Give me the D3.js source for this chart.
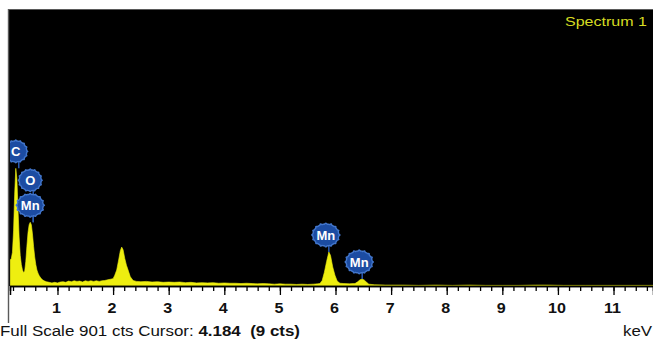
<!DOCTYPE html>
<html>
<head>
<meta charset="utf-8">
<script src="https://cdn.jsdelivr.net/npm/d3@7/dist/d3.min.js"></script>
<style>
  html, body { margin: 0; padding: 0; background: #ffffff; }
  svg { display: block; }
  text { font-family: "Liberation Sans", Arial, sans-serif; }
</style>
</head>
<body>
<svg id="chart" width="653" height="340"></svg>
<script>
// EDS spectrum: energy (keV) and counts per channel
const energy = [
  0.15, 0.17, 0.19, 0.21, 0.23, 0.25, 0.27, 0.29, 0.31, 0.33, 0.35, 0.37, 0.39,
  0.41, 0.43, 0.45, 0.47, 0.49, 0.51, 0.53, 0.55, 0.57, 0.59, 0.61, 0.63, 0.65,
  0.67, 0.70, 0.73, 0.77,
  0.80, 0.85, 0.90, 0.95, 1.00, 1.05, 1.10, 1.15, 1.20, 1.25, 1.30, 1.35, 1.40,
  1.45, 1.50, 1.55, 1.60, 1.65, 1.70, 1.75, 1.80, 1.85, 1.90, 1.95,
  2.00, 2.03, 2.065, 2.10, 2.13, 2.155, 2.18, 2.21, 2.24, 2.27, 2.31, 2.36, 2.42,
  2.50, 2.60, 2.70, 2.80, 2.90, 3.00, 3.10, 3.20, 3.30, 3.40, 3.50, 3.60, 3.70,
  3.80, 3.90, 4.00, 4.10, 4.20, 4.30, 4.40, 4.50, 4.60, 4.70, 4.80, 4.90, 5.00,
  5.10, 5.20, 5.30, 5.40, 5.50, 5.60, 5.68,
  5.72, 5.76, 5.80, 5.84, 5.88, 5.91, 5.95, 5.99, 6.03, 6.08, 6.15, 6.25, 6.32,
  6.35, 6.40, 6.44, 6.48, 6.52, 6.56, 6.60, 6.70,
  6.90, 7.20, 7.50, 7.80, 8.10, 8.40, 8.70, 9.00, 9.30, 9.60, 9.80, 10.10, 10.50,
  10.90, 11.30, 11.72
];
const counts = [
  85, 90, 110, 180, 300, 384, 350, 250, 160, 100, 70, 52, 44,
  48, 80, 130, 175, 200, 208, 200, 170, 130, 95, 70, 52, 42,
  34, 26, 20, 16,
  14, 12, 10, 12, 10, 13, 14, 12, 16, 14, 17, 15, 16,
  13, 17, 15, 17, 15, 17, 15, 17, 18, 20, 22,
  24, 35, 52, 85, 115, 127, 118, 90, 68, 52, 30, 18, 15,
  14, 15, 13, 14, 12, 13, 12, 13, 11, 12, 10, 11, 10,
  11, 9, 10, 9, 9, 8, 9, 8, 7, 8, 7, 6, 7,
  6, 6, 5, 6, 5, 6, 7,
  8, 18, 45, 80, 111, 100, 62, 35, 16, 9, 8, 7, 8,
  8, 14, 20, 23, 19, 12, 6, 4,
  3, 3, 2, 3, 2, 3, 2, 2, 2, 3, 3, 2, 2,
  2, 2, 2
];

// Element markers: symbol, line energy, stacking level above the peak
const labelElements = ["C", "O", "Mn", "Mn", "Mn"];
const labelEnergies = [0.25, 0.51, 0.51, 5.88, 6.48];
const labelStacks   = [0, 1, 0, 0, 0];

const majorTicks = [1, 2, 3, 4, 5, 6, 7, 8, 9, 10, 11];
const fullScale = 901;
const spectrumName = "Spectrum 1";

const svg = d3.select("#chart");
const plot = { left: 9, top: 10, right: 653, bottom: 286 };

const x = d3.scaleLinear().domain([0.146, 11.71]).range([10, plot.right]);
const y = d3.scaleLinear().domain([0, fullScale]).range([plot.bottom, plot.top]);

// black plot window with grey frame on top and left
svg.append("rect")
  .attr("x", plot.left).attr("y", plot.top)
  .attr("width", plot.right - plot.left).attr("height", plot.bottom - plot.top)
  .attr("fill", "#000");
svg.append("line").attr("x1", 8).attr("x2", 653).attr("y1", 9.5).attr("y2", 9.5)
  .attr("stroke", "#5a5a5a").attr("stroke-width", 1.2);
svg.append("line").attr("x1", 8.5).attr("x2", 8.5).attr("y1", 9).attr("y2", 323)
  .attr("stroke", "#5a5a5a").attr("stroke-width", 1.4);

svg.append("defs").append("clipPath").attr("id", "plotClip")
  .append("rect")
  .attr("x", 10).attr("y", plot.top)
  .attr("width", plot.right - 10).attr("height", plot.bottom - plot.top);

const pts = energy.map((e, i) => [e, counts[i]]);

const area = d3.area()
  .x(d => x(d[0]))
  .y0(y(0))
  .y1(d => y(d[1]))
  .curve(d3.curveLinear);

const inner = svg.append("g").attr("clip-path", "url(#plotClip)");
inner.append("path")
  .datum(pts)
  .attr("d", area)
  .attr("fill", "#eeee10")
  .attr("stroke", "#eeee10")
  .attr("stroke-width", 0.6);

// spectrum title
svg.append("text")
  .attr("x", 647).attr("y", 26)
  .attr("text-anchor", "end")
  .attr("font-size", 13.5)
  .attr("fill", "#d6dc22")
  .attr("textLength", 82)
  .attr("lengthAdjust", "spacingAndGlyphs")
  .text(spectrumName);

// element badges
function badgePath(rx, ry) {
  const n = 16, pts2 = [];
  for (let k = 0; k <= 64; k++) {
    const t = (k / 64) * Math.PI * 2;
    const bump = 1 + 0.08 * Math.max(0, Math.cos(n * t));
    pts2.push([Math.cos(t) * rx * bump, Math.sin(t) * ry * bump]);
  }
  return d3.line().curve(d3.curveCardinalClosed)(pts2);
}

function peakCountsAt(e) {
  let best = 0;
  energy.forEach((en, i) => { if (Math.abs(en - e) <= 0.03) best = Math.max(best, counts[i]); });
  return best;
}

labelElements.forEach((el, i) => {
  const e = labelEnergies[i];
  const px = x(e) + (el === "Mn" && e > 5 ? -3 : 0);
  const top = y(peakCountsAt(e));
  const cy = top - 17 - labelStacks[i] * 25;
  const rx = el.length > 1 ? 13 : 11;
  const ry = el.length > 1 ? 11 : 10.5;
  const g = inner.append("g").attr("transform", `translate(${px},${cy})`);
  g.append("line").attr("x1", 3).attr("x2", 3).attr("y1", ry).attr("y2", top - cy)
    .attr("stroke", "#2c5cb4").attr("stroke-width", 1.5);
  g.append("path").attr("d", badgePath(rx, ry))
    .attr("fill", "#1c4ca2").attr("stroke", "#4276cc").attr("stroke-width", 1.4);
  g.append("text")
    .attr("text-anchor", "middle")
    .attr("dy", "0.36em")
    .attr("font-size", 13)
    .attr("font-weight", "bold")
    .attr("fill", "#ffffff")
    .text(el);
});

// energy axis: minor ticks every 0.2 keV, labelled major ticks every 1 keV
const minorTicks = d3.range(1, 59).map(k => +(k * 0.2).toFixed(1)).filter(v => v >= 0.2 && v <= 11.6);
const axisG = svg.append("g").attr("transform", `translate(0,${plot.bottom})`);
axisG.call(d3.axisBottom(x).tickValues(minorTicks).tickSize(5).tickFormat(""));
axisG.append("g").call(d3.axisBottom(x).tickValues(majorTicks).tickSize(9).tickFormat(d3.format("d")));
axisG.selectAll("path.domain").attr("stroke", "#000").attr("stroke-width", 1.5);
axisG.selectAll(".tick line").attr("stroke", "#000").attr("stroke-width", 1.3);
axisG.selectAll(".tick text")
  .attr("y", 27)
  .attr("dy", 0)
  .attr("font-size", 14)
  .attr("font-weight", "bold")
  .attr("font-family", "'Liberation Sans', Arial, sans-serif")
  .attr("fill", "#111")
  .attr("transform", "translate(-1.5,0) scale(1.15,1)");

// status line
const status = svg.append("text")
  .attr("x", 0).attr("y", 336)
  .attr("font-size", 14)
  .attr("fill", "#111")
  .attr("textLength", 300)
  .attr("lengthAdjust", "spacingAndGlyphs")
  .style("white-space", "pre");
status.append("tspan").text("Full Scale " + fullScale + " cts Cursor: ");
status.append("tspan").attr("font-weight", "bold").text("4.184  (9 cts)");

svg.append("text")
  .attr("x", 652).attr("y", 336)
  .attr("text-anchor", "end")
  .attr("font-size", 14)
  .attr("fill", "#111")
  .attr("textLength", 29)
  .attr("lengthAdjust", "spacingAndGlyphs")
  .text("keV");
</script>
</body>
</html>
